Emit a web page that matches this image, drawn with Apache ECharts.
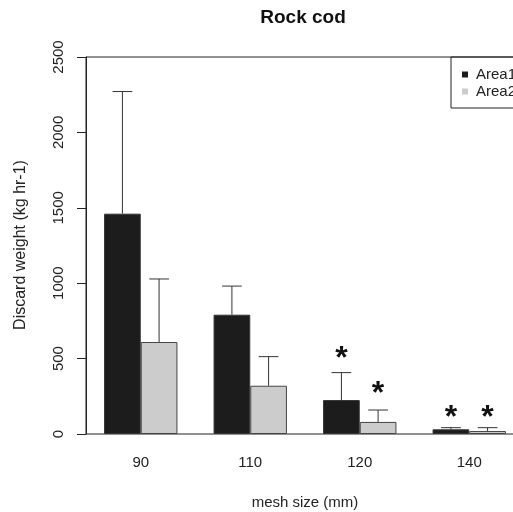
<!DOCTYPE html>
<html>
<head>
<meta charset="utf-8">
<script src="https://cdn.jsdelivr.net/npm/echarts@6/dist/echarts.min.js"></script>
<style>html,body{margin:0;padding:0;background:#fff;}#c{width:513px;height:512px;}</style>
</head>
<body>
<div id="c"></div>
<script>
// ---- data ----
const categories = ['90', '110', '120', '140'];
const seriesNames = ['Area1', 'Area2'];
const area1 = [1461, 791, 225, 31];
const area2 = [610, 320, 80, 20];
const area1Se = [810, 190, 182, 11];
const area2Se = [418, 193, 79, 22];
// significance marks: y position (data units) of the "*" text, null = none
const area1Star = [null, null, 540, 150];
const area2Star = [null, null, 308, 150];
const yTicks = [0, 500, 1000, 1500, 2000, 2500];

const colors = ['#1c1c1c', '#cccccc'];
const barFrac = 0.335;
const font = 'Liberation Sans, Arial, Helvetica, sans-serif';

function errData(vals, se) {
  return vals.map((v, i) => [i, v, se[i]]);
}
function starData(stars) {
  return stars.map((s, i) => s == null ? null : [i, s]).filter(d => d);
}
function errSeries(vals, se, sign) {
  return {
    type: 'custom',
    silent: true,
    z: 5,
    data: errData(vals, se),
    renderItem: function (params, api) {
      const i = api.value(0), v = api.value(1), e = api.value(2);
      const bw = api.size([1, 0])[0];
      const base = api.coord([i, v]);
      const top = api.coord([i, v + e]);
      const x = base[0] + sign * bw * barFrac / 2;
      const cap = bw * 0.09;
      return {
        type: 'group',
        children: [
          { type: 'line', shape: { x1: x, y1: base[1], x2: x, y2: top[1] }, style: { stroke: '#333', lineWidth: 1 } },
          { type: 'line', shape: { x1: x - cap, y1: top[1], x2: x + cap, y2: top[1] }, style: { stroke: '#333', lineWidth: 1 } }
        ]
      };
    }
  };
}
function starSeries(stars, sign) {
  return {
    type: 'custom',
    silent: true,
    z: 6,
    data: starData(stars),
    renderItem: function (params, api) {
      const i = api.value(0), s = api.value(1);
      const bw = api.size([1, 0])[0];
      const p = api.coord([i, s]);
      return {
        type: 'text',
        x: p[0] + sign * bw * barFrac / 2,
        y: p[1] + 7,
        style: { text: '*', fontSize: 32, fontWeight: 'bold', fontFamily: font, fill: '#111', align: 'center', verticalAlign: 'middle' }
      };
    }
  };
}

const chart = echarts.init(document.getElementById('c'));
chart.setOption({
  animation: false,
  backgroundColor: '#fff',
  title: {
    text: 'Rock cod', left: 303, top: 8, textAlign: 'center', padding: 0,
    textStyle: { fontSize: 19, fontWeight: 'bold', color: '#111', fontFamily: font }
  },
  legend: {
    data: seriesNames, orient: 'vertical', left: 451, top: 57,
    padding: [10, 30, 9, 11], itemGap: 2,
    borderColor: '#222', borderWidth: 1, borderRadius: 0,
    icon: 'rect', itemWidth: 6, itemHeight: 6,
    itemStyle: { borderWidth: 0 },
    textStyle: { fontSize: 15, color: '#222', fontFamily: font, padding: [0, 0, 0, 3] }
  },
  graphic: [{
    type: 'text', x: 21, y: 245, rotation: Math.PI / 2,
    style: { text: 'Discard weight (kg hr-1)', fontSize: 16, fill: '#222', fontFamily: font, align: 'center', verticalAlign: 'middle' }
  }],
  grid: { left: 86, top: 57, width: 438, height: 377, show: true, borderColor: '#222', borderWidth: 1,
    backgroundColor: 'transparent', containLabel: false, outerBoundsMode: 'none' },
  xAxis: {
    type: 'category', data: categories,
    axisLine: { show: false }, axisTick: { show: false },
    axisLabel: { margin: 21, fontSize: 15, color: '#222', fontFamily: font },
    name: 'mesh size (mm)', nameLocation: 'middle', nameGap: 61,
    nameTextStyle: { fontSize: 15, color: '#222', fontFamily: font }
  },
  yAxis: {
    type: 'value', min: yTicks[0], max: yTicks[yTicks.length - 1], interval: yTicks[1] - yTicks[0],
    axisLine: { show: true, lineStyle: { color: '#222' } },
    axisTick: { show: true, length: 9, lineStyle: { color: '#222' } },
    axisLabel: { rotate: 90, margin: 20, fontSize: 15, color: '#222', fontFamily: font, formatter: v => String(v) },
    splitLine: { show: false }
  },
  series: [
    { name: seriesNames[0], type: 'bar', data: area1, barWidth: (barFrac * 100) + '%', barGap: '0%',
      itemStyle: { color: colors[0], borderColor: '#333', borderWidth: 1 } },
    { name: seriesNames[1], type: 'bar', data: area2, barWidth: (barFrac * 100) + '%', barGap: '0%',
      itemStyle: { color: colors[1], borderColor: '#444', borderWidth: 1 } },
    errSeries(area1, area1Se, -1),
    errSeries(area2, area2Se, 1),
    starSeries(area1Star, -1),
    starSeries(area2Star, 1)
  ]
});
</script>
</body>
</html>
